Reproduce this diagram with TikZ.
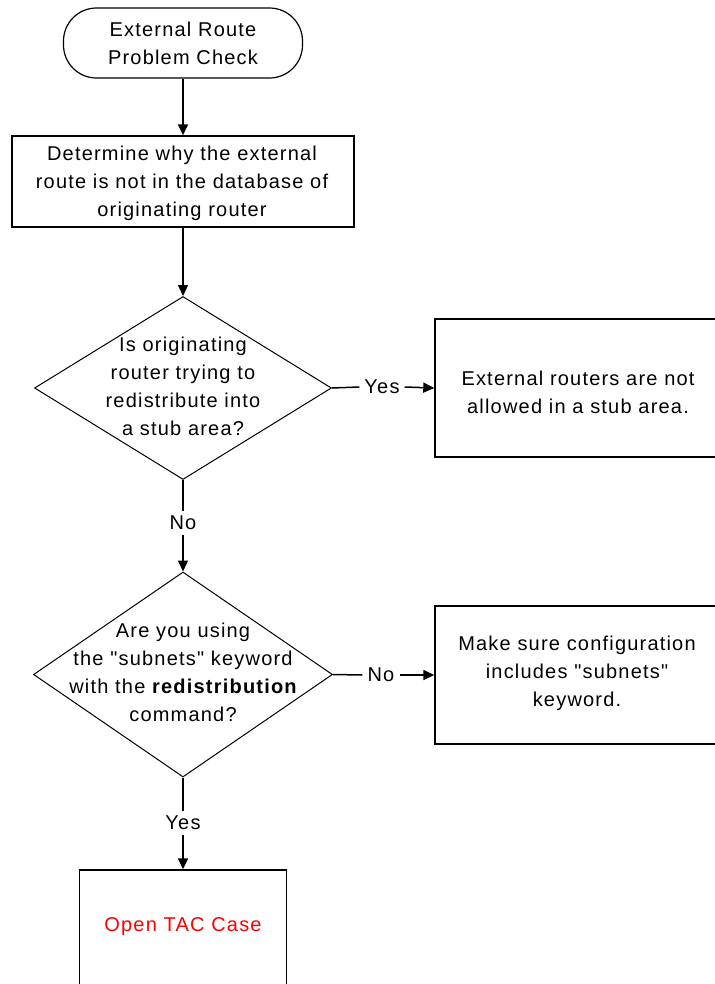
\documentclass[tikz,border=0pt]{standalone}
\usepackage{fontspec}
\setmainfont[LetterSpace=6,Ligatures=TeXOff]{Liberation Sans}
\usetikzlibrary{shapes.geometric,arrows.meta}
\newcommand{\dq}{\symbol{34}}
\tikzset{
  every node/.style={font=\fontsize{20bp}{28bp}\selectfont, align=center},
  boxnode/.style={draw, line width=1.4bp, rectangle, inner sep=0pt},
  termnode/.style={draw, line width=1.2bp, rectangle, rounded corners=33bp, inner sep=0pt},
  decnode/.style={draw, line width=1bp, diamond, inner sep=0pt},
  lbl/.style={inner sep=5bp, fill=white},
  conn/.style={line width=1.5bp},
  arr/.style={line width=1.5bp, -{Triangle[length=11bp,width=10bp]}},
}
\begin{document}
\begin{tikzpicture}[x=1bp,y=-1bp]
\clip (0,0) rectangle (715,984);
\fill[white] (0,0) rectangle (715,984);
% shapes
\node[termnode, minimum width=239bp, minimum height=70bp] (term) at (183,43) {};
\node (termtxt) at (183,43) {External Route\\Problem Check};
\node[boxnode, minimum width=342bp, minimum height=91bp] (box1) at (183,181.5) {};
\node (box1txt) at (182,183) {Determine why the external\\route is not in the database of\\originating router};
\node[decnode, minimum width=297bp, minimum height=183bp] (d1) at (183,388) {};
\node (d1txt) at (183,386) {Is originating\\router trying to\\redistribute into\\a stub area?};
\node[boxnode, minimum width=286bp, minimum height=138bp] (box2) at (578,388) {};
\node (box2txt) at (578,392) {External routers are not\\allowed in a stub area.};
\node[decnode, minimum width=299bp, minimum height=205bp] (d2) at (183,674.5) {};
\node (d2txt) at (183,672) {Are you using\\the \dq subnets\dq\ keyword\\with the {\bfseries redistribution}\\command?};
\node[boxnode, minimum width=285bp, minimum height=138bp] (box3) at (577.5,675) {};
\node (box3txt) at (577,673) {Make sure configuration\\includes \dq subnets\dq\\keyword.};
\node[boxnode, minimum width=207bp, minimum height=118bp] (box4) at (183,929) {};
\node[text=red] (box4txt) at (183,927) {Open TAC Case};
% labels
\node[lbl] (yes1) at (382,387) {Yes};
\node[lbl] (no1) at (183,523) {No};
\node[lbl] (no2) at (381,675) {No};
\node[lbl] (yes2) at (183,823) {Yes};
% connectors
\draw[arr] (term.south) -- (box1.north);
\draw[arr] (box1.south) -- (d1.north);
\draw[conn] (d1.east) -- (yes1.west);
\draw[arr] (yes1.east) -- (box2.west);
\draw[conn] (d1.south) -- (no1.north);
\draw[arr] (no1.south) -- (d2.north);
\draw[conn] (d2.east) -- (no2.west);
\draw[arr] (no2.east) -- (box3.west);
\draw[conn] (d2.south) -- (yes2.north);
\draw[arr] (yes2.south) -- (box4.north);
\end{tikzpicture}
\end{document}
